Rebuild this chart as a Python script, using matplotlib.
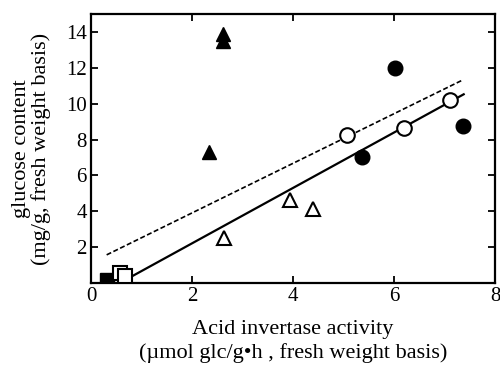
import matplotlib
matplotlib.use("Agg")
import matplotlib.pyplot as plt
import numpy as np

plt.rcParams['font.family'] = ['Liberation Serif', 'DejaVu Serif']

# 数据：酸性转化酶活性 vs 葡萄糖含量
filled_tri_x = [2.62, 2.62, 2.34]
filled_tri_y = [13.9, 13.5, 7.3]
open_tri_x = [2.64, 3.94, 4.40]
open_tri_y = [2.5, 4.65, 4.1]
filled_circ_x = [6.02, 5.36, 7.36]
filled_circ_y = [12.0, 7.0, 8.75]
open_circ_x = [5.06, 6.19, 7.11]
open_circ_y = [8.25, 8.65, 10.2]
filled_sq_x = [0.31]
filled_sq_y = [0.15]
open_sq_x = [0.57, 0.68]
open_sq_y = [0.55, 0.38]

# 回归线 (斜率, 截距, x范围)
solid_fit = [1.545, -0.88]
solid_range = [0.84, 7.38]
dash_fit = [1.383, 1.14]
dash_range = [0.31, 7.34]

fig = plt.figure(figsize=(5, 3.68), dpi=100)
ax = fig.add_axes([0.182, 0.231, 0.808, 0.731])

xs = np.array(solid_range)
ax.plot(xs, solid_fit[0] * xs + solid_fit[1], color='black', lw=1.6, zorder=2)
xd = np.array(dash_range)
ax.plot(xd, dash_fit[0] * xd + dash_fit[1], color='black', lw=1.2, ls=(0, (3, 1.5)), zorder=2)

ms = 10.5
ax.plot(filled_tri_x, filled_tri_y, '^', ms=ms, color='black', zorder=3)
ax.plot(open_tri_x, open_tri_y, '^', ms=ms, mfc='white', mec='black', mew=1.5, zorder=3)
ax.plot(filled_circ_x, filled_circ_y, 'o', ms=ms, color='black', zorder=3)
ax.plot(open_circ_x, open_circ_y, 'o', ms=ms, mfc='white', mec='black', mew=1.5, zorder=3)
ax.plot(filled_sq_x, filled_sq_y, 's', ms=ms, color='black', zorder=3)
ax.plot(open_sq_x, open_sq_y, 's', ms=ms, mfc='white', mec='black', mew=1.5, zorder=4)

ax.set_xlim(0, 8)
ax.set_ylim(0, 15)
ax.set_xticks([0, 2, 4, 6, 8])
ax.set_yticks([2, 4, 6, 8, 10, 12, 14])
ax.tick_params(direction='in', top=True, right=True, length=5, width=1.3, labelsize=15, pad=3)
for sp in ax.spines.values():
    sp.set_linewidth(1.6)

ax.set_xlabel("Acid invertase activity\n(µmol glc/g•h , fresh weight basis)", fontsize=16,
              linespacing=1.3, labelpad=10)
ax.set_ylabel("glucose content\n(mg/g, fresh weight basis)", fontsize=16, linespacing=1.0, labelpad=11)

fig.savefig("out.png", dpi=100)
